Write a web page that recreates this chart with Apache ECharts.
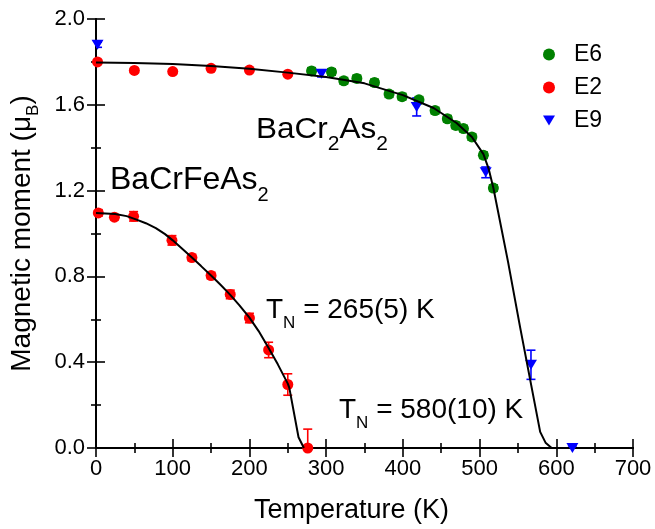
<!DOCTYPE html>
<html>
<head>
<meta charset="utf-8">
<script src="https://cdn.jsdelivr.net/npm/echarts@6/dist/echarts.min.js"></script>
<style>
html,body{margin:0;padding:0;background:#fff;}
#chart{width:655px;height:529px;}
</style>
</head>
<body>
<div id="chart"></div>
<script>
// ---- data ----
const xTicks = [0, 100, 200, 300, 400, 500, 600, 700];
const yTicks = [0.0, 0.4, 0.8, 1.2, 1.6, 2.0];

// E6 (green) - BaCr2As2
const e6T   = [281, 307, 323, 340, 363, 382, 399, 421, 442, 458, 469, 479, 490, 505, 518];
const e6M   = [1.758, 1.753, 1.712, 1.723, 1.704, 1.650, 1.638, 1.623, 1.573, 1.535, 1.504, 1.489, 1.450, 1.365, 1.212];
const e6Err = [0.015, 0.015, 0.015, 0.015, 0.015, 0.015, 0.015, 0.015, 0.015, 0.015, 0.015, 0.015, 0.015, 0.015, 0.015];

// E2 (red) - BaCr2As2 (upper) and BaCrFeAs2 (lower)
const e2T   = [2, 50, 100, 150, 200, 250, 3, 24, 49, 99, 125, 150, 175, 200, 225, 250, 276];
const e2M   = [1.800, 1.760, 1.755, 1.770, 1.762, 1.743, 1.096, 1.076, 1.080, 0.968, 0.888, 0.804, 0.716, 0.606, 0.457, 0.296, 0.000];
const e2Err = [0.010, 0.010, 0.010, 0.010, 0.010, 0.010, 0.015, 0.012, 0.022, 0.022, 0.015, 0.015, 0.020, 0.022, 0.036, 0.050, 0.088];

// E9 (blue)
const e9T   = [2, 294, 418, 508, 567, 621];
const e9M   = [1.880, 1.745, 1.590, 1.285, 0.388, 0.000];
const e9Err = [0.012, 0.015, 0.042, 0.025, 0.068, 0.010];

// fit curves
const fitCrT = [0, 50, 100, 150, 200, 250, 300, 350, 400, 440, 470, 490, 505, 512, 518, 537, 553, 579, 586, 594];
const fitCrM = [1.797, 1.795, 1.790, 1.781, 1.768, 1.750, 1.730, 1.700, 1.645, 1.585, 1.515, 1.450, 1.370, 1.300, 1.212, 0.870, 0.560, 0.075, 0.025, 0.000];
const fitFeT = [0, 25, 40, 52, 65, 78, 90, 100, 112, 125, 137, 150, 162, 175, 187, 200, 212, 225, 237, 250, 252, 264, 271];
const fitFeM = [1.096, 1.091, 1.081, 1.066, 1.048, 1.025, 0.997, 0.968, 0.930, 0.888, 0.848, 0.804, 0.762, 0.714, 0.665, 0.608, 0.545, 0.466, 0.390, 0.300, 0.280, 0.050, 0.000];

// ---- build ----
const FONT = 'Liberation Sans, Arial, sans-serif';
const zip = (a, b) => a.map((v, i) => [v, b[i]]);
const zip3 = (a, b, c) => a.map((v, i) => [v, b[i], c[i]]);

function errSeries(color, data) {
  return {
    type: 'custom', silent: true, clip: true, data: data,
    renderItem: function (params, api) {
      const x = api.value(0), y = api.value(1), e = api.value(2);
      const t = api.coord([x, y + e]);
      const b = api.coord([x, y - e]);
      const hw = 4.5;
      const st = { stroke: color, lineWidth: 1.6 };
      return { type: 'group', children: [
        { type: 'line', shape: { x1: t[0], y1: t[1], x2: b[0], y2: b[1] }, style: st },
        { type: 'line', shape: { x1: t[0] - hw, y1: t[1], x2: t[0] + hw, y2: t[1] }, style: st },
        { type: 'line', shape: { x1: b[0] - hw, y1: b[1], x2: b[0] + hw, y2: b[1] }, style: st }
      ]};
    }
  };
}

const triDown = 'path://M0,0L12,0L6,10Z';

const axisCommon = {
  axisLine: { show: true, lineStyle: { color: '#000', width: 2 } },
  axisTick: { show: true, inside: true, length: 9, lineStyle: { color: '#000', width: 1.6 } },
  minorTick: { show: true, splitNumber: 2, length: 5, lineStyle: { color: '#000', width: 1.6 } },
  splitLine: { show: false }
};

const xMin = xTicks[0], xMax = xTicks[xTicks.length - 1], xInt = xTicks[1] - xTicks[0];
const yMin = yTicks[0], yMax = yTicks[yTicks.length - 1], yInt = +(yTicks[1] - yTicks[0]).toFixed(2);

const option = {
  animation: false,
  backgroundColor: '#fff',
  grid: { left: 94, right: 22, top: 19, bottom: 77 },
  xAxis: [
    Object.assign({
      type: 'value', min: xMin, max: xMax, interval: xInt, position: 'bottom',
      name: 'Temperature (K)', nameLocation: 'middle', nameGap: 49,
      nameTextStyle: { fontSize: 27, fontFamily: FONT, color: '#000', padding: [0, 26, 0, 0] },
      axisLabel: { fontSize: 22, fontFamily: FONT, color: '#000', margin: 10 }
    }, axisCommon),
    Object.assign({
      type: 'value', min: xMin, max: xMax, interval: xInt, position: 'top',
      axisLabel: { show: false }
    }, axisCommon)
  ],
  yAxis: [
    Object.assign({
      type: 'value', min: yMin, max: yMax, interval: yInt, position: 'left',
      name: '{a|Magnetic moment (μ}{b|B}{a|)}', nameLocation: 'middle', nameGap: 58,
      nameTextStyle: { fontSize: 28, fontFamily: FONT, color: '#000',
        rich: { a: { fontSize: 28, fontFamily: FONT, color: '#000', lineHeight: 30, verticalAlign: 'top' },
                b: { fontSize: 17, fontFamily: FONT, color: '#000', lineHeight: 17, padding: [17, 0, 0, 0], verticalAlign: 'top' } } },
      axisLabel: { fontSize: 22, fontFamily: FONT, color: '#000', margin: 11, formatter: v => v.toFixed(1) }
    }, axisCommon),
    Object.assign({
      type: 'value', min: yMin, max: yMax, interval: yInt, position: 'right',
      axisLabel: { show: false }
    }, axisCommon)
  ],
  legend: {
    orient: 'vertical', left: 538, top: 38, itemGap: 10, itemWidth: 12, itemHeight: 12,
    data: [
      { name: 'E6', icon: 'circle' },
      { name: 'E2', icon: 'circle' },
      { name: 'E9', icon: triDown }
    ],
    textStyle: { fontSize: 23, fontFamily: FONT, color: '#000', padding: [0, 0, 0, 14] }
  },
  series: [
    errSeries('#008000', zip3(e6T, e6M, e6Err)),
    errSeries('#ff0000', zip3(e2T, e2M, e2Err)),
    errSeries('#0000ff', zip3(e9T, e9M, e9Err)),
    { name: 'E6', type: 'scatter', symbol: 'circle', symbolSize: 11, itemStyle: { color: '#008000', opacity: 1 }, data: zip(e6T, e6M), z: 3 },
    { name: 'E2', type: 'scatter', symbol: 'circle', symbolSize: 11, itemStyle: { color: '#ff0000', opacity: 1 }, data: zip(e2T, e2M), z: 3 },
    { name: 'E9', type: 'scatter', symbol: triDown, symbolSize: [12, 10], itemStyle: { color: '#0000ff', opacity: 1 }, data: zip(e9T, e9M), z: 3 },
    { name: 'fitCr', type: 'line', symbol: 'none', silent: true, lineStyle: { color: '#000', width: 2 }, data: zip(fitCrT, fitCrM), z: 4 },
    { name: 'fitFe', type: 'line', symbol: 'none', silent: true, lineStyle: { color: '#000', width: 2 }, data: zip(fitFeT, fitFeM), z: 4 }
  ],
  graphic: [
    { type: 'text', x: 256, y: 115, scaleX: 1.05, z: 10,
      style: { text: 'BaCr{s|2}As{s|2}', fill: '#000', font: '30px ' + FONT, verticalAlign: 'top', align: 'left',
        rich: { m: {}, s: { fontSize: 20, fontFamily: FONT, fill: '#000', lineHeight: 20, padding: [19, 0, 0, 0], verticalAlign: 'top' } } } },
    { type: 'text', x: 110, y: 164, z: 10,
      style: { text: 'BaCrFeAs{s|2}', fill: '#000', font: '32px ' + FONT, verticalAlign: 'top', align: 'left',
        rich: { s: { fontSize: 20, fontFamily: FONT, fill: '#000', lineHeight: 20, padding: [21, 0, 0, 0], verticalAlign: 'top' } } } },
    { type: 'text', x: 266, y: 296, z: 10,
      style: { text: 'T{s|N} = 265(5) K', fill: '#000', font: '28px ' + FONT, verticalAlign: 'top', align: 'left',
        rich: { s: { fontSize: 17, fontFamily: FONT, fill: '#000', lineHeight: 17, padding: [19, 0, 0, 0], verticalAlign: 'top' } } } },
    { type: 'text', x: 339, y: 396, z: 10,
      style: { text: 'T{s|N} = 580(10) K', fill: '#000', font: '28px ' + FONT, verticalAlign: 'top', align: 'left',
        rich: { s: { fontSize: 17, fontFamily: FONT, fill: '#000', lineHeight: 17, padding: [19, 0, 0, 0], verticalAlign: 'top' } } } }
  ]
};

const chart = echarts.init(document.getElementById('chart'), null, { renderer: 'canvas' });
chart.setOption(option);
</script>
</body>
</html>
